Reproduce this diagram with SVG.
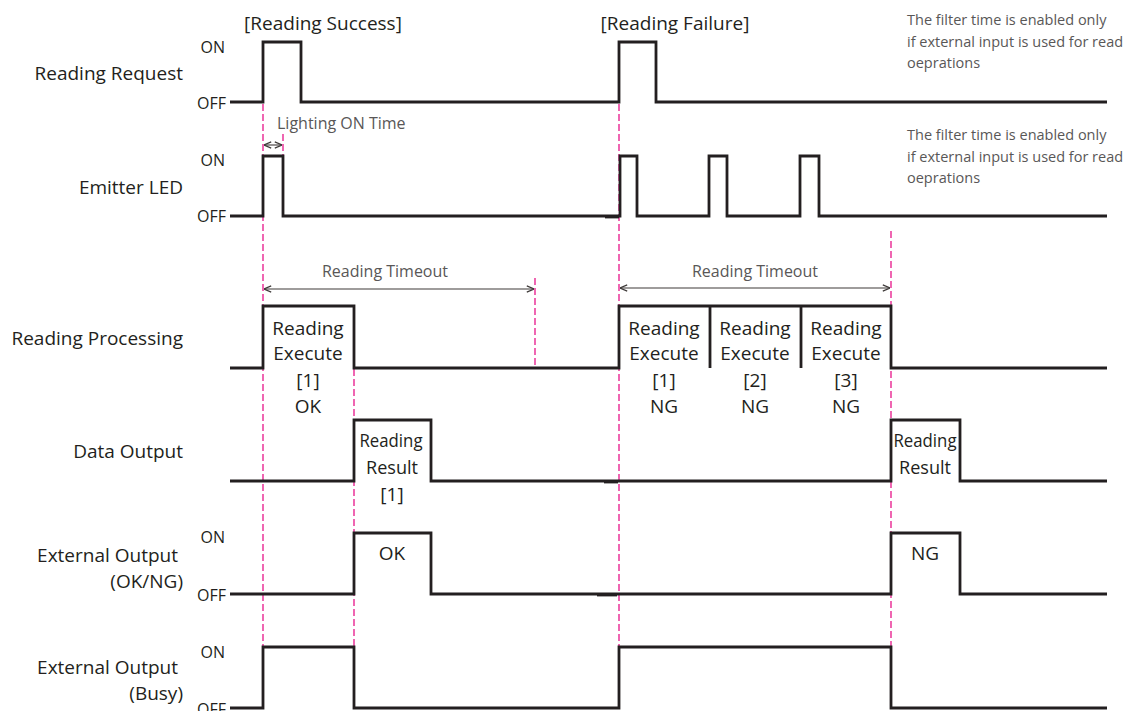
<svg xmlns="http://www.w3.org/2000/svg" width="1144" height="711" viewBox="0 0 1144 711">
<style>
.sig{fill:none;stroke:#231f20;stroke-width:2.8;stroke-linejoin:miter}
.guide{fill:none;stroke:#e4007f;stroke-width:1.2;stroke-dasharray:7 3}
.dim{fill:none;stroke:#3e3a39;stroke-width:1.1}
.lbl{font-family:"Open Sans","Noto Sans",sans-serif;font-size:19px;fill:#231f20;text-anchor:end}
.lv{font-family:"Open Sans","Noto Sans",sans-serif;font-size:16px;fill:#231f20;text-anchor:end}
.box{font-family:"Open Sans","Noto Sans",sans-serif;font-size:19px;fill:#231f20;text-anchor:middle}
.note{font-family:"Open Sans","Noto Sans",sans-serif;font-size:14.5px;fill:#595757}
.gray{font-family:"Open Sans","Noto Sans",sans-serif;font-size:16px;fill:#595757}
.ttl{font-family:"Open Sans","Noto Sans",sans-serif;font-size:19px;fill:#231f20;text-anchor:middle}
</style>
<defs>
<marker id="ah" viewBox="0 0 10 10" refX="10" refY="5" markerWidth="9" markerHeight="9" markerUnits="userSpaceOnUse" orient="auto-start-reverse">
<path d="M2,1.5 L10,5 L2,8.5" fill="none" stroke="#3e3a39" stroke-width="1.3"/>
</marker>
</defs>
<rect width="1144" height="711" fill="#fff"/>

<g id="titles">
<text class="ttl" x="323" y="30">[Reading Success]</text>
<text class="ttl" x="675" y="30">[Reading Failure]</text>
</g>

<g id="notes">
<text class="note" x="907" y="25">The filter time is enabled only</text>
<text class="note" x="907" y="47">if external input is used for read</text>
<text class="note" x="907" y="68">oeprations</text>
<text class="note" x="907" y="140">The filter time is enabled only</text>
<text class="note" x="907" y="162">if external input is used for read</text>
<text class="note" x="907" y="183">oeprations</text>
</g>

<g id="connectors">
<line class="guide" x1="263" y1="104" x2="263" y2="647"/>
<line class="guide" x1="283" y1="134" x2="283" y2="156"/>
<line class="guide" x1="354" y1="369" x2="354" y2="647"/>
<line class="guide" x1="535" y1="278" x2="535" y2="367"/>
<line class="guide" x1="619" y1="104" x2="619" y2="647"/>
<line class="guide" x1="891" y1="231" x2="891" y2="647"/>
<line class="dim" x1="264" y1="145" x2="282" y2="145" marker-start="url(#ah)" marker-end="url(#ah)"/>
<line class="dim" x1="264" y1="289" x2="534" y2="289" marker-start="url(#ah)" marker-end="url(#ah)"/>
<line class="dim" x1="620" y1="288" x2="890" y2="288" marker-start="url(#ah)" marker-end="url(#ah)"/>
<text class="gray" x="277" y="129" font-size="16.5">Lighting ON Time</text>
<text class="gray" x="385" y="277" text-anchor="middle">Reading Timeout</text>
<text class="gray" x="755" y="277" text-anchor="middle">Reading Timeout</text>
</g>

<g id="reading-request">
<text class="lbl" x="183" y="80">Reading Request</text>
<text class="lv" x="225" y="53">ON</text>
<text class="lv" x="226" y="109">OFF</text>
<path class="sig" d="M230,102 H263 V42 H301 V102 H619 V42 H656 V102 H1107"/>
</g>

<g id="emitter-led">
<text class="lbl" x="183" y="194">Emitter LED</text>
<text class="lv" x="225" y="166">ON</text>
<text class="lv" x="226" y="222">OFF</text>
<path class="sig" d="M230,216 H263 V156 H283 V216 H620 V156 H637 V216 H709 V156 H727 V216 H800 V156 H819 V216 H1107"/>
<line class="sig" x1="605" y1="217" x2="619" y2="217"/>
</g>

<g id="reading-processing">
<text class="lbl" x="183" y="345">Reading Processing</text>
<path class="sig" d="M230,368 H263 V306 H354 V368 H619 V306 H891 V368 H1107"/>
<line class="sig" x1="710" y1="306" x2="710" y2="368"/>
<line class="sig" x1="801" y1="306" x2="801" y2="368"/>
<text class="box" x="308" y="335">Reading</text>
<text class="box" x="308" y="360">Execute</text>
<text class="box" x="308" y="387">[1]</text>
<text class="box" x="308" y="413">OK</text>
<text class="box" x="664" y="335">Reading</text>
<text class="box" x="664" y="360">Execute</text>
<text class="box" x="664" y="387">[1]</text>
<text class="box" x="664" y="413">NG</text>
<text class="box" x="755" y="335">Reading</text>
<text class="box" x="755" y="360">Execute</text>
<text class="box" x="755" y="387">[2]</text>
<text class="box" x="755" y="413">NG</text>
<text class="box" x="846" y="335">Reading</text>
<text class="box" x="846" y="360">Execute</text>
<text class="box" x="846" y="387">[3]</text>
<text class="box" x="846" y="413">NG</text>
</g>

<g id="data-output">
<text class="lbl" x="183" y="458">Data Output</text>
<path class="sig" d="M230,481 H354 V420 H431 V481 H891 V420 H960 V481 H1107"/>
<line class="sig" x1="604" y1="482" x2="618" y2="482"/>
<text class="box" x="391" y="447" textLength="63" lengthAdjust="spacingAndGlyphs">Reading</text>
<text class="box" x="392" y="474" textLength="52" lengthAdjust="spacingAndGlyphs">Result</text>
<text class="box" x="392" y="501">[1]</text>
<text class="box" x="925" y="447" textLength="63" lengthAdjust="spacingAndGlyphs">Reading</text>
<text class="box" x="925" y="474" textLength="52" lengthAdjust="spacingAndGlyphs">Result</text>
</g>

<g id="external-output-okng">
<text class="lbl" x="178" y="562">External Output</text>
<text class="lbl" x="183" y="588">(OK/NG)</text>
<text class="lv" x="225" y="543">ON</text>
<text class="lv" x="226" y="601">OFF</text>
<path class="sig" d="M230,594 H354 V533 H431 V594 H891 V533 H960 V594 H1107"/>
<line class="sig" x1="597" y1="595" x2="617" y2="595"/>
<text class="box" x="392" y="560">OK</text>
<text class="box" x="925" y="560">NG</text>
</g>

<g id="external-output-busy">
<text class="lbl" x="178" y="674">External Output</text>
<text class="lbl" x="183" y="700">(Busy)</text>
<text class="lv" x="225" y="658">ON</text>
<text class="lv" x="226" y="715">OFF</text>
<path class="sig" d="M230,708 H263 V647 H354 V708 H619 V647 H891 V708 H1107"/>
</g>
</svg>
